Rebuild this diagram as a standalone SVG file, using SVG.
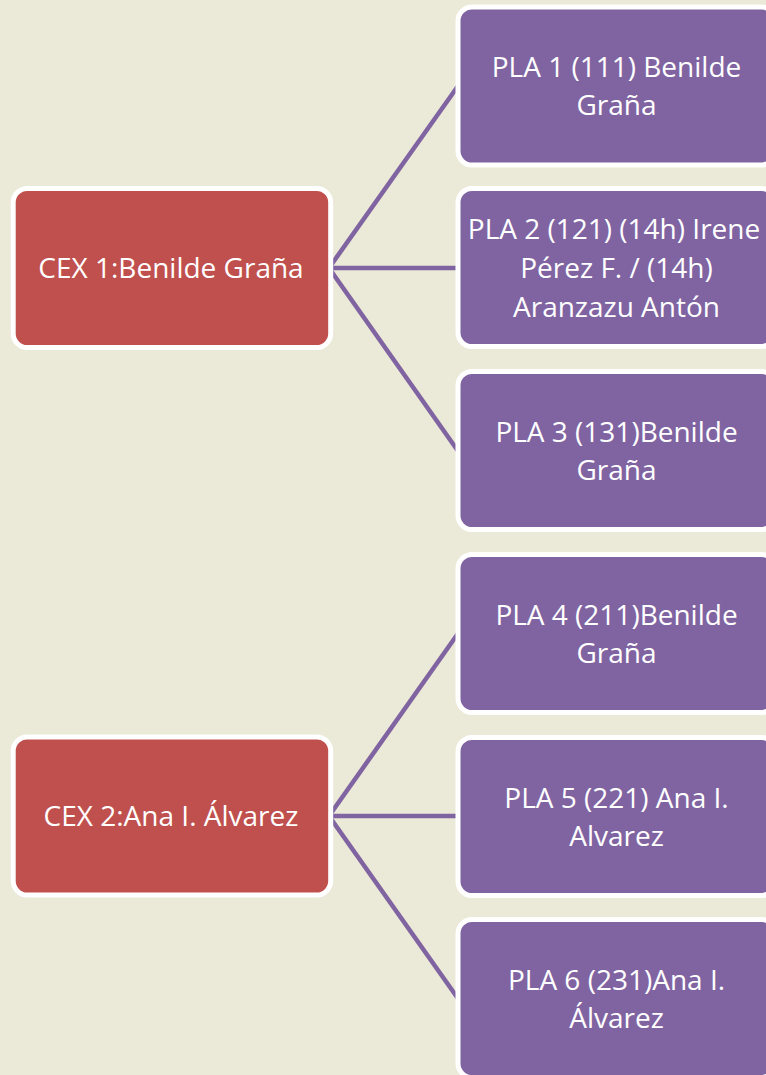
<svg xmlns="http://www.w3.org/2000/svg" width="766" height="1075" viewBox="0 0 766 1075">
<style>
.bg{fill:#EBE9D7}
.cex{fill:#C0504D;stroke:#FFFFFF;stroke-width:5}
.pla{fill:#8064A2;stroke:#FFFFFF;stroke-width:5}
.conn{stroke:#8064A2;stroke-width:4.5;fill:none;stroke-linecap:butt}
text{font-family:"Open Sans","Noto Sans","Liberation Sans",sans-serif;font-size:28px;fill:#FFFFFF;text-anchor:middle}
</style>
<rect class="bg" x="0" y="0" width="766" height="1075"/>
<g id="connectors">
<line class="conn" x1="329" y1="268" x2="458" y2="86"/>
<line class="conn" x1="329" y1="268" x2="458" y2="268"/>
<line class="conn" x1="329" y1="268" x2="458" y2="451"/>
<line class="conn" x1="329" y1="816" x2="458" y2="633.5"/>
<line class="conn" x1="329" y1="816" x2="458" y2="816"/>
<line class="conn" x1="329" y1="816" x2="458" y2="998.5"/>
</g>
<g id="cex1">
<rect class="cex" x="13.2" y="188.5" width="317.5" height="159" rx="14"/>
<text x="171" y="278">CEX 1:Benilde Graña</text>
</g>
<g id="cex2">
<rect class="cex" x="13.2" y="737" width="317.5" height="158" rx="14"/>
<text x="171" y="826">CEX 2:Ana I. Álvarez</text>
</g>
<g id="pla1">
<rect class="pla" x="458" y="7" width="317.5" height="158" rx="14"/>
<text x="616.5" y="77.3">PLA 1 (111) Benilde</text>
<text x="616.5" y="115">Graña</text>
</g>
<g id="pla2">
<rect class="pla" x="458" y="188.5" width="317.5" height="158" rx="14"/>
<text x="614" y="239.3">PLA 2 (121) (14h) Irene</text>
<text x="616.5" y="278">Pérez F. / (14h)</text>
<text x="616.5" y="316.7">Aranzazu Antón</text>
</g>
<g id="pla3">
<rect class="pla" x="458" y="371.5" width="317.5" height="158" rx="14"/>
<text x="616.5" y="442">PLA 3 (131)Benilde</text>
<text x="616.5" y="480">Graña</text>
</g>
<g id="pla4">
<rect class="pla" x="458" y="554.5" width="317.5" height="158" rx="14"/>
<text x="616.5" y="625">PLA 4 (211)Benilde</text>
<text x="616.5" y="663">Graña</text>
</g>
<g id="pla5">
<rect class="pla" x="458" y="737.5" width="317.5" height="158" rx="14"/>
<text x="616.5" y="807.5">PLA 5 (221) Ana I.</text>
<text x="616.5" y="845.5">Alvarez</text>
</g>
<g id="pla6">
<rect class="pla" x="458" y="919.5" width="317.5" height="158" rx="14"/>
<text x="616.5" y="989.5">PLA 6 (231)Ana I.</text>
<text x="616.5" y="1027.5">Álvarez</text>
</g>
</svg>
